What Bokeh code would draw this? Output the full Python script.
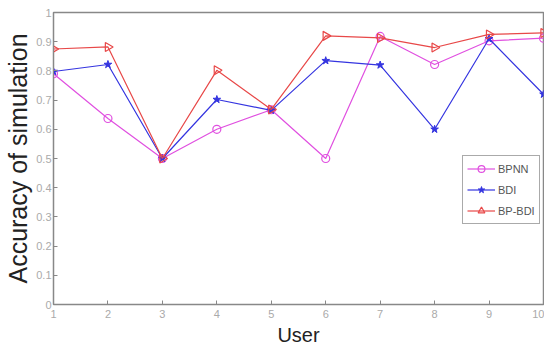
import math
from bokeh.plotting import figure
from bokeh.models import ColumnDataSource, FixedTicker, Legend, LegendItem, Range1d
from bokeh.embed import file_html
from bokeh.resources import INLINE

users = [1, 2, 3, 4, 5, 6, 7, 8, 9, 10]
bpnn = [0.79, 0.637, 0.50, 0.60, 0.667, 0.50, 0.918, 0.822, 0.903, 0.912]
bdi = [0.798, 0.822, 0.50, 0.702, 0.665, 0.835, 0.82, 0.60, 0.91, 0.72]
bp_bdi = [0.875, 0.882, 0.50, 0.802, 0.668, 0.92, 0.913, 0.88, 0.925, 0.93]
y_ticks = [0, 0.1, 0.2, 0.3, 0.4, 0.5, 0.6, 0.7, 0.8, 0.9, 1]
y_tick_labels = ["0", "0.1", "0.2", "0.3", "0.4", "0.5", "0.6", "0.7", "0.8", "0.9", "1"]
x_ticks = users

src = ColumnDataSource(dict(x=users, bpnn=bpnn, bdi=bdi, bpbdi=bp_bdi))

p = figure(width=544, height=348, output_backend="svg", toolbar_location=None,
           x_range=Range1d(1, 10), y_range=Range1d(0, 1),
           min_border_left=53, min_border_right=1, min_border_top=12, min_border_bottom=38)
p.background_fill_color = "white"
p.border_fill_color = "white"
p.outline_line_color = "#888888"
p.outline_line_width = 1.5
p.grid.visible = False

xax = p.below[0]
yax = p.left[0]
label_color = "#aaaaaa"
for ax in (xax, yax):
    ax.major_tick_in = 4
    ax.major_tick_out = 0
    ax.minor_tick_line_color = None
    ax.axis_line_color = "#888888"
    ax.major_tick_line_color = "#888888"
    ax.major_label_text_color = label_color
    ax.major_label_text_font = "Liberation Sans"
    ax.major_label_text_font_size = "11px"
    ax.axis_label_text_font = "Liberation Sans"
    ax.axis_label_text_font_style = "normal"
    ax.axis_label_text_color = "#222222"

xax.ticker = FixedTicker(ticks=x_ticks)
yax.ticker = FixedTicker(ticks=y_ticks)
yax.major_label_overrides = {t: l for t, l in zip(y_ticks, y_tick_labels)}
xax.axis_label = "User"
yax.axis_label = "Accuracy of simulation"
xax.axis_label_text_font_size = "20px"
yax.axis_label_text_font_size = "25px"
xax.major_label_standoff = 5
yax.major_label_standoff = 2
xax.axis_label_standoff = 3
yax.axis_label_standoff = 1

l1 = p.line("x", "bpnn", source=src, line_color="#e050e0", line_width=1.2)
m1 = p.scatter("x", "bpnn", source=src, marker="circle", size=8, fill_color=None,
               line_color="#e050e0", line_width=1.2)
l2 = p.line("x", "bdi", source=src, line_color="#3535e0", line_width=1.2)
m2 = p.scatter("x", "bdi", source=src, marker="star", size=8, fill_color="#3535e0",
               line_color="#3535e0", line_width=1)
l3 = p.line("x", "bpbdi", source=src, line_color="#e84848", line_width=1.2)
m3 = p.scatter("x", "bpbdi", source=src, marker="triangle", angle=-math.pi / 2, size=9,
               fill_color=None, line_color="#e84848", line_width=1.2)

legend = Legend(items=[LegendItem(label="BPNN", renderers=[l1, m1]),
                       LegendItem(label="BDI", renderers=[l2, m2]),
                       LegendItem(label="BP-BDI", renderers=[l3, m3])],
                location=(409, 80), orientation="vertical")
legend.border_line_color = "#555555"
legend.border_line_width = 1
legend.background_fill_alpha = 1
legend.label_text_font = "Liberation Sans"
legend.label_text_font_size = "11px"
legend.label_text_color = "#555555"
legend.glyph_width = 28
legend.glyph_height = 17
legend.label_height = 17
legend.spacing = 4
legend.padding = 4
legend.margin = 0
legend.label_standoff = 3
p.add_layout(legend, "center")

open("out.html", "w").write(file_html(p, INLINE))
